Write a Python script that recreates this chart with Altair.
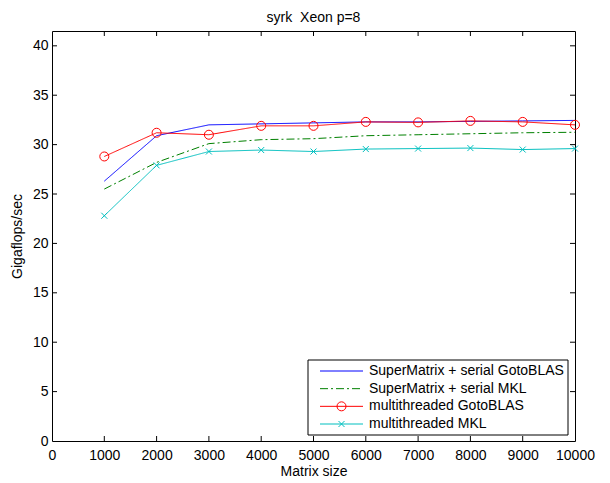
import altair as alt
import pandas as pd

# ---- data ----
sizes = [1000, 2000, 3000, 4000, 5000, 6000, 7000, 8000, 9000, 10000]
sm_goto = [26.3, 30.9, 32.0, 32.1, 32.2, 32.3, 32.3, 32.35, 32.4, 32.45]
sm_mkl = [25.5, 28.2, 30.1, 30.5, 30.6, 30.9, 31.0, 31.1, 31.2, 31.25]
mt_goto = [28.8, 31.2, 31.0, 31.9, 31.9, 32.3, 32.25, 32.4, 32.3, 32.0]
mt_mkl = [22.8, 27.9, 29.3, 29.45, 29.3, 29.55, 29.6, 29.65, 29.5, 29.6]

series = [
    "SuperMatrix + serial GotoBLAS",
    "SuperMatrix + serial MKL",
    "multithreaded GotoBLAS",
    "multithreaded MKL",
]
colors = ["#0000FF", "#008000", "#FF0000", "#00BFBF"]
dashes = [[1, 0], [8, 3, 2, 3], [1, 0], [1, 0]]
title_text = ["syrk\u00a0 Xeon p=8"]

x_labels = [0, 1000, 2000, 3000, 4000, 5000, 6000, 7000, 8000, 9000, 10000]
y_labels = [0, 5, 10, 15, 20, 25, 30, 35, 40]
x_ticks = [1000, 2000, 3000, 4000, 5000, 6000, 7000, 8000, 9000]
y_ticks = [5, 10, 15, 20, 25, 30, 35, 40]

rows = []
for name, vals in zip(series, [sm_goto, sm_mkl, mt_goto, mt_mkl]):
    for s, v in zip(sizes, vals):
        rows.append({"series": name, "size": s, "gflops": v})
df = pd.DataFrame(rows)

W, H = 523, 410
FONT = "Liberation Sans, Arial, Helvetica"
XPATH = "M-1,-1L1,1M-1,1L1,-1"

xscale = alt.Scale(domain=[0, 10000], nice=False, zero=False)
yscale = alt.Scale(domain=[0, 41.5], nice=False, zero=False)
xaxis = alt.Axis(values=x_labels, title="Matrix size", format="d", labelFlush=False, labelOverlap=False,
                 labelPadding=7, titleBaseline="alphabetic", titleX=W / 2, titleY=34.5,
                 domain=False, ticks=False, grid=False)
yaxis = alt.Axis(values=y_labels, title="Gigaflops/sec", format="d", labelFlush=False, labelOverlap=False,
                 labelPadding=4, titleBaseline="alphabetic", titleAngle=270, titleX=-31, titleY=H / 2,
                 domain=False, ticks=False, grid=False)
X = alt.X("size:Q", scale=xscale, axis=xaxis)
Y = alt.Y("gflops:Q", scale=yscale, axis=yaxis)
color = alt.Color("series:N", scale=alt.Scale(domain=series, range=colors), legend=None)
dash = alt.StrokeDash("series:N", scale=alt.Scale(domain=series, range=dashes), legend=None)

base = alt.Chart(df)
lines = base.mark_line(strokeWidth=1).encode(x=X, y=Y, color=color, strokeDash=dash)
circles = base.transform_filter(alt.datum.series == series[2]).mark_point(
    shape="circle", filled=False, size=81, strokeWidth=1, color="#FF0000", opacity=1
).encode(x=X, y=Y)
crosses = base.transform_filter(alt.datum.series == series[3]).mark_point(
    shape=XPATH, filled=False, size=36, strokeWidth=1, color="#00BFBF", opacity=1
).encode(x=X, y=Y)

xt = alt.Chart(pd.DataFrame({"size": x_ticks}))
yt = alt.Chart(pd.DataFrame({"gflops": y_ticks}))
bottom_ticks = xt.mark_rule(color="black", strokeWidth=1).encode(x=X, y=alt.value(H), y2=alt.value(H - 5))
top_ticks = xt.mark_rule(color="black", strokeWidth=1).encode(x=X, y=alt.value(0), y2=alt.value(5))
left_ticks = yt.mark_rule(color="black", strokeWidth=1).encode(y=Y, x=alt.value(0), x2=alt.value(5))
right_ticks = yt.mark_rule(color="black", strokeWidth=1).encode(y=Y, x=alt.value(W), x2=alt.value(W - 5))

plot = alt.layer(lines, circles, crosses, bottom_ticks, top_ticks, left_ticks, right_ticks)

# ---- legend box and title ----
leg_df = pd.DataFrame({"series": series, "row": [0, 1, 2, 3]})
leg_y = alt.Y("row:Q", scale=alt.Scale(domain=[0, 3], range=[340, 393]), axis=None)
lb = alt.Chart(leg_df)
leg_box = alt.Chart(pd.DataFrame({"a": [0]})).mark_rect(
    fill="white", stroke="black", strokeWidth=1
).encode(x=alt.value(256), x2=alt.value(516), y=alt.value(329), y2=alt.value(404))
leg_lines = lb.mark_rule(strokeWidth=1).encode(
    x=alt.value(268), x2=alt.value(311), y=leg_y, color=color, strokeDash=dash)
leg_circle = lb.transform_filter(alt.datum.series == series[2]).mark_point(
    shape="circle", filled=False, size=81, strokeWidth=1, color="#FF0000", opacity=1
).encode(x=alt.value(289.5), y=leg_y)
leg_cross = lb.transform_filter(alt.datum.series == series[3]).mark_point(
    shape=XPATH, filled=False, size=36, strokeWidth=1, color="#00BFBF", opacity=1
).encode(x=alt.value(289.5), y=leg_y)
leg_text = lb.mark_text(align="left", baseline="middle", fontSize=14, font=FONT, color="black").encode(
    x=alt.value(317), y=leg_y, text="series:N")
title = alt.Chart(pd.DataFrame({"t": title_text})).mark_text(
    align="center", baseline="alphabetic", fontSize=14, font=FONT, color="black"
).encode(x=alt.value(W / 2), y=alt.value(-9), text="t:N")
legend = alt.layer(leg_box, leg_lines, leg_circle, leg_cross, leg_text, title)

chart = alt.layer(plot, legend).resolve_scale(y="independent").properties(
    width=W, height=H,
    background="white",
    autosize=alt.AutoSizeParams(type="none"),
    padding={"left": 52, "top": 31, "right": 610 - 52 - W, "bottom": 483 - 31 - H},
).configure_view(stroke="black", strokeWidth=1).configure_axis(
    domain=False, ticks=False, grid=False, labelFont=FONT, labelFontSize=14, labelColor="black",
    titleFont=FONT, titleFontSize=14, titleFontWeight="normal", titleColor="black"
)

chart.save("out.html", embed_options={"renderer": "svg", "actions": False})
